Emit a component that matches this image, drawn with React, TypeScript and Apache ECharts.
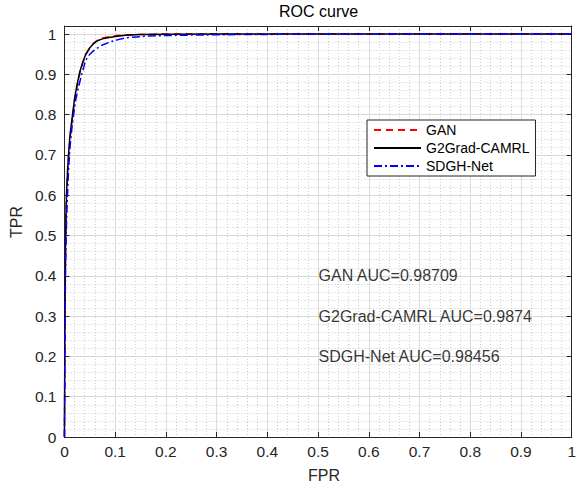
import React, { useEffect, useRef } from 'react';
import * as echarts from 'echarts';

const chartTitle = 'ROC curve';
const xAxisName = 'FPR';
const yAxisName = 'TPR';
const seriesNames = ['GAN', 'G2Grad-CAMRL', 'SDGH-Net'];

// GAN (red dashed)
const ganFpr = [0, 0.0005, 0.001, 0.002, 0.003, 0.004, 0.006, 0.008, 0.011, 0.015, 0.02, 0.025, 0.03, 0.036, 0.042, 0.05, 0.058, 0.066, 0.075, 0.085, 0.1, 0.12, 0.15, 0.2, 0.3, 0.5, 1];
const ganTpr = [0, 0.14, 0.28, 0.44, 0.53, 0.59, 0.65, 0.69, 0.74, 0.785, 0.835, 0.87, 0.9, 0.927, 0.948, 0.966, 0.978, 0.986, 0.99, 0.993, 0.996, 0.998, 0.999, 1, 1, 1, 1];

// G2Grad-CAMRL (black solid)
const camrlFpr = [0, 0.0005, 0.001, 0.002, 0.003, 0.004, 0.006, 0.008, 0.011, 0.015, 0.02, 0.025, 0.03, 0.036, 0.042, 0.05, 0.058, 0.066, 0.075, 0.085, 0.1, 0.12, 0.15, 0.2, 0.3, 0.5, 1];
const camrlTpr = [0, 0.15, 0.3, 0.46, 0.55, 0.6, 0.66, 0.7, 0.75, 0.79, 0.84, 0.875, 0.905, 0.93, 0.95, 0.966, 0.977, 0.984, 0.988, 0.991, 0.994, 0.997, 0.999, 0.9995, 1, 1, 1];

// SDGH-Net (blue dash-dot)
const sdghFpr = [0, 0.0005, 0.001, 0.002, 0.003, 0.004, 0.006, 0.008, 0.011, 0.015, 0.018, 0.022, 0.028, 0.034, 0.042, 0.05, 0.059, 0.067, 0.075, 0.083, 0.091, 0.1, 0.111, 0.125, 0.143, 0.165, 0.19, 0.25, 0.35, 0.5, 0.7, 1];
const sdghTpr = [0, 0.12, 0.26, 0.4, 0.48, 0.53, 0.6, 0.66, 0.72, 0.77, 0.8, 0.835, 0.87, 0.9, 0.935, 0.95, 0.96, 0.967, 0.973, 0.977, 0.981, 0.984, 0.988, 0.991, 0.993, 0.995, 0.996, 0.9975, 0.999, 0.9995, 1, 1];

const aucTexts = ['GAN AUC=0.98709', 'G2Grad-CAMRL AUC=0.9874', 'SDGH-Net AUC=0.98456'];
const aucTextX = 0.5;
const aucTextY = [0.4, 0.3, 0.2];

const xMin = 0, xMax = 1, xStep = 0.1;
const yMin = 0, yMax = 1.02, yStep = 0.1, yMinorStep = 0.02;

const FONT = '"Liberation Sans", Arial, Helvetica, sans-serif';
const AXIS_COLOR = '#262626';
const GRID_COLOR = '#dcdcdc';
const MINOR_COLOR = '#cfcfcf';

const zip = (a: number[], b: number[]) => a.map((v, i) => [v, b[i]]);

export default function App() {
  const ref = useRef<HTMLDivElement>(null);
  useEffect(() => {
    if (!ref.current) return;
    const chart = echarts.init(ref.current, undefined, { renderer: 'svg' });
    const tickLabel = { fontFamily: FONT, fontSize: 15.5, color: AXIS_COLOR };
    chart.setOption({
      animation: false,
      backgroundColor: '#ffffff',
      title: {
        text: chartTitle,
        left: 279,
        top: 3,
        padding: 0,
        textStyle: { fontFamily: FONT, fontSize: 16, fontWeight: 'normal', color: '#000' },
      },
      legend: {
        data: seriesNames,
        orient: 'vertical',
        left: 367,
        top: 120,
        padding: [3, 6, 3, 6],
        itemWidth: 47,
        itemHeight: 14,
        itemGap: 4,
        backgroundColor: '#ffffff',
        borderColor: AXIS_COLOR,
        borderWidth: 1,
        borderRadius: 0,
        selectedMode: false,
        itemStyle: { opacity: 0, borderWidth: 0 },
        textStyle: { fontFamily: FONT, fontSize: 14, color: '#000' },
      },
      grid: { left: 60, right: 7, top: 26, bottom: 54, containLabel: false },
      xAxis: [
        {
          type: 'value',
          min: xMin,
          max: xMax,
          interval: xStep,
          position: 'bottom',
          name: xAxisName,
          nameLocation: 'middle',
          nameGap: 30,
          nameTextStyle: { fontFamily: FONT, fontSize: 16, color: AXIS_COLOR, padding: [0, 0, 0, 12] },
          axisLine: { show: true, onZero: false, lineStyle: { color: AXIS_COLOR, width: 1 } },
          axisTick: { show: true, inside: true, length: 5, lineStyle: { color: AXIS_COLOR } },
          axisLabel: { ...tickLabel, margin: 6 },
          splitLine: { show: true, lineStyle: { color: GRID_COLOR, width: 1 } },
          minorTick: { show: false, splitNumber: 5 },
          minorSplitLine: { show: true, lineStyle: { color: MINOR_COLOR, type: [1, 2], width: 1 } },
        },
        {
          type: 'value',
          min: xMin,
          max: xMax,
          interval: xStep,
          position: 'top',
          axisLine: { show: true, onZero: false, lineStyle: { color: AXIS_COLOR, width: 1 } },
          axisTick: { show: true, inside: true, length: 5, lineStyle: { color: AXIS_COLOR } },
          axisLabel: { show: false },
          splitLine: { show: false },
        },
      ],
      yAxis: [
        {
          type: 'value',
          min: yMin,
          max: yMax,
          interval: yStep,
          position: 'left',
          name: yAxisName,
          nameLocation: 'middle',
          nameGap: 36,
          nameTextStyle: { fontFamily: FONT, fontSize: 16, color: AXIS_COLOR, padding: [0, 0, 0, 19] },
          axisLine: { show: true, onZero: false, lineStyle: { color: AXIS_COLOR, width: 1 } },
          axisTick: { show: true, inside: true, length: 5, lineStyle: { color: AXIS_COLOR } },
          axisLabel: {
            ...tickLabel,
            margin: 8,
            formatter: (v: number) => (v > 1.0001 ? '' : String(Math.round(v * 10) / 10)),
          },
          splitLine: { show: true, lineStyle: { color: GRID_COLOR, width: 1 } },
        },
        {
          type: 'value',
          min: yMin,
          max: yMax,
          interval: yStep,
          position: 'right',
          axisLine: { show: true, onZero: false, lineStyle: { color: AXIS_COLOR, width: 1 } },
          axisTick: { show: true, inside: true, length: 5, lineStyle: { color: AXIS_COLOR } },
          axisLabel: { show: false },
          splitLine: { show: false },
        },
        {
          type: 'value',
          min: yMin,
          max: yMax,
          interval: yMinorStep,
          position: 'left',
          axisLine: { show: false },
          axisTick: { show: false },
          axisLabel: { show: false },
          splitLine: { show: true, lineStyle: { color: MINOR_COLOR, type: [1, 2], width: 1 } },
        },
      ],
      series: [
        {
          name: seriesNames[0],
          type: 'line',
          data: zip(ganFpr, ganTpr),
          showSymbol: false,
          symbol: 'none',
          lineStyle: { color: '#ff0000', width: 1.5, type: [7, 5] },
          itemStyle: { color: '#ff0000' },
          z: 3,
        },
        {
          name: seriesNames[1],
          type: 'line',
          data: zip(camrlFpr, camrlTpr),
          showSymbol: false,
          symbol: 'none',
          lineStyle: { color: '#000000', width: 1.5, type: 'solid' },
          itemStyle: { color: '#000000' },
          z: 4,
        },
        {
          name: seriesNames[2],
          type: 'line',
          data: zip(sdghFpr, sdghTpr),
          showSymbol: false,
          symbol: 'none',
          lineStyle: { color: '#0000ff', width: 1.5, type: [8, 3, 2, 3] },
          itemStyle: { color: '#0000ff' },
          z: 5,
        },
        {
          name: 'auc-text',
          type: 'scatter',
          silent: true,
          symbol: 'circle',
          symbolSize: 1,
          itemStyle: { color: 'rgba(0,0,0,0)' },
          data: aucTexts.map((t, i) => ({ name: t, value: [aucTextX, aucTextY[i]] })),
          label: {
            show: true,
            position: 'right',
            distance: 0,
            formatter: '{b}',
            fontFamily: FONT,
            fontSize: 16,
            color: '#000',
          },
          labelLayout: { hideOverlap: false },
          z: 6,
        },
      ],
    });
    return () => chart.dispose();
  }, []);
  return (
    <div
      ref={ref}
      style={{ position: 'fixed', left: 0, top: 0, width: 579, height: 491, background: '#fff' }}
    />
  );
}
